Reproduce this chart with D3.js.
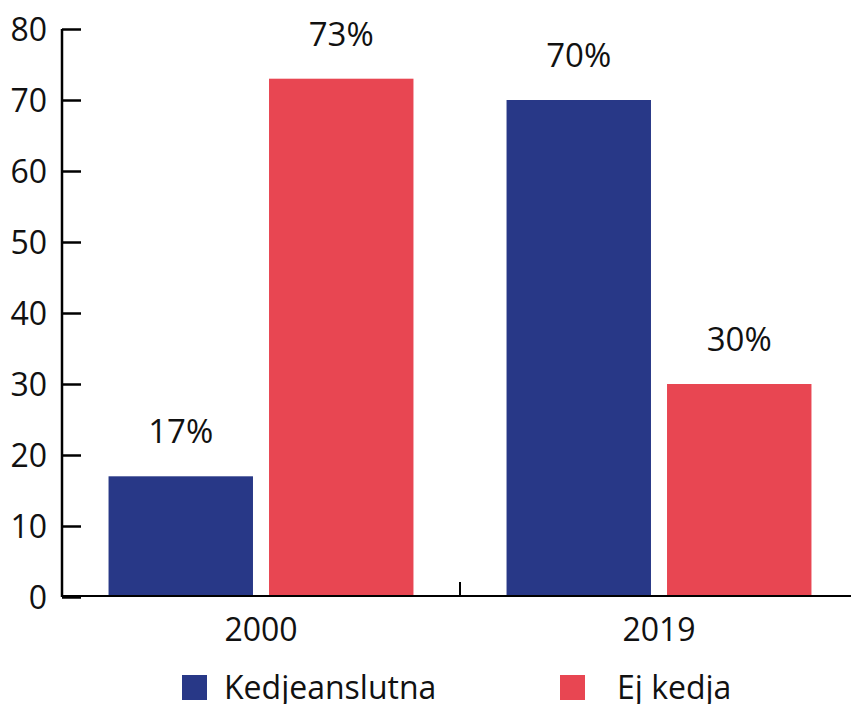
<!DOCTYPE html>
<html>
<head>
<meta charset="utf-8">
<script src="https://cdn.jsdelivr.net/npm/d3@7"></script>
<style>
  html, body { margin: 0; padding: 0; background: #fff; }
  svg { display: block; }
  svg text { font-family: "Open Sans", "Noto Sans", sans-serif; }
</style>
</head>
<body>
<svg id="chart" width="851" height="704"></svg>
<script>
// Andel butiker: kedjeanslutna vs. ej kedja
const years = ["2000", "2019"];
const seriesNames = ["Kedjeanslutna", "Ej kedja"];
const kedjeanslutna = [17, 70];
const ejKedja = [73, 30];
const yTicks = [0, 10, 20, 30, 40, 50, 60, 70, 80];
const colors = ["#283887", "#E84652"];

const rows = years.map((yr, i) => ({ year: yr, values: [kedjeanslutna[i], ejKedja[i]] }));

const svg = d3.select("#chart");
const plotLeft = 62, plotRight = 858, plotTop = 29, plotBottom = 597;
const fontFamily = "'Open Sans', 'Noto Sans', sans-serif";

const x = d3.scaleBand().domain(years).range([plotLeft, plotRight]).paddingInner(0).paddingOuter(0);
const xInner = d3.scaleBand().domain(seriesNames).range([0, x.bandwidth()])
  .paddingInner(0.1).paddingOuter(0.29);
const y = d3.scaleLinear().domain([0, 80]).range([plotBottom, plotTop]);

// bars
const groups = svg.append("g").selectAll("g").data(rows).join("g")
  .attr("transform", d => `translate(${x(d.year)},0)`);

groups.selectAll("rect").data(d => d.values.map((v, j) => ({ v, name: seriesNames[j], j })))
  .join("rect")
  .attr("x", d => xInner(d.name))
  .attr("width", xInner.bandwidth())
  .attr("y", d => y(d.v))
  .attr("height", d => y(0) - y(d.v))
  .attr("fill", d => colors[d.j]);

groups.selectAll("text.val").data(d => d.values.map((v, j) => ({ v, name: seriesNames[j], j })))
  .join("text")
  .attr("class", "val")
  .attr("x", d => xInner(d.name) + xInner.bandwidth() / 2)
  .attr("y", d => y(d.v) - 33)
  .attr("text-anchor", "middle")
  .attr("font-size", 33)
  .attr("fill", "#111")
  .text(d => d.v + "%");

// y axis
const yAxis = d3.axisRight(y).tickValues(yTicks).tickSize(19).tickFormat(d3.format("d"));
const gy = svg.append("g").attr("transform", `translate(${plotLeft},0)`).call(yAxis)
  .attr("font-family", fontFamily);
gy.select(".domain").attr("stroke", "#000").attr("stroke-width", 2.5)
  .attr("d", `M0,${plotTop}V${plotBottom}`);
gy.selectAll(".tick line").attr("stroke", "#000").attr("stroke-width", 2.5);
gy.selectAll(".tick text")
  .attr("x", -15)
  .attr("text-anchor", "end")
  .attr("font-size", 32)
  .attr("fill", "#111")
  .attr("dy", "0.36em");

// x axis
const xAxis = d3.axisBottom(x).tickSize(0).tickPadding(22);
const gx = svg.append("g").attr("transform", `translate(0,${plotBottom - 1})`).call(xAxis)
  .attr("font-family", fontFamily);
gx.select(".domain").attr("stroke", "#000").attr("stroke-width", 2)
  .attr("d", `M${plotLeft},0H851`);
gx.selectAll(".tick text").attr("font-size", 32).attr("fill", "#111").attr("dy", "0.71em");
// divider tick between the year groups
gx.append("line")
  .attr("x1", x("2019")).attr("x2", x("2019"))
  .attr("y1", 0).attr("y2", -14)
  .attr("stroke", "#000").attr("stroke-width", 2);

// legend
const legendX = [182, 560];
const legendTextX = [224, 617];
const lg = svg.append("g").selectAll("g").data(seriesNames).join("g");
lg.append("rect")
  .attr("x", (d, i) => legendX[i]).attr("y", 675)
  .attr("width", 25).attr("height", 25)
  .attr("fill", (d, i) => colors[i]);
lg.append("text")
  .attr("x", (d, i) => legendTextX[i]).attr("y", 699)
  .attr("font-size", 32)
  .attr("fill", "#111")
  .text(d => d);
</script>
</body>
</html>
